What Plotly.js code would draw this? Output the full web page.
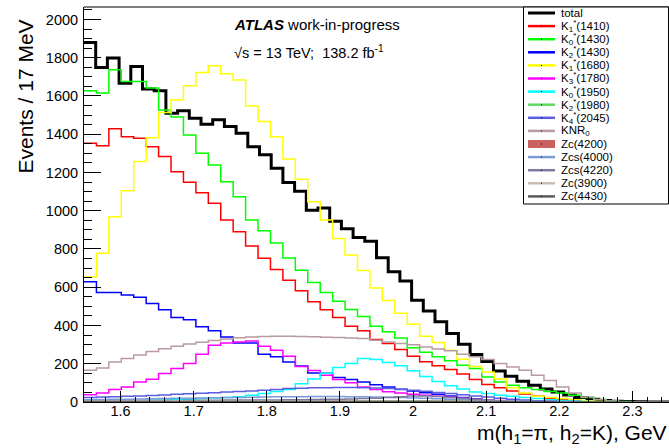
<!DOCTYPE html>
<html><head><meta charset="utf-8">
<script src="https://cdn.plot.ly/plotly-3.0.1.min.js"></script>
<style>html,body{margin:0;padding:0;background:#fff}#chart{width:669px;height:448px}</style>
</head><body><div id="chart"></div>
<script>
// ---- binning (total 16 MeV-wide bins, components 17 MeV bins, both starting at 1.55 GeV)
const totalLo = 1.55, totalBw = 0.016;
const compLo = 1.55, compBw = 0.017;

// ---- data (events per bin)
const total = [1880,1749,1798,1667,1754,1636,1627,1510,1522,1484,1452,1475,1440,1405,1335,1292,1222,1147,1102,1003,
  1014,945,906,860,840,754,681,632,532,476,419,358,302,248,212,162,135,108,87,68,52,37,24,14,8,4,2,1,0,0];
const K1_1410 = [1353,1340,1428,1387,1379,1335,1283,1204,1149,1094,1039,951,890,815,751,693,637,581,524,482,
  442,396,372,327,306,274,239,211,190,170,146,117,91,75,58,42,30,20,12,6,3,1,0,0,0,0,0,0];
const K0_1430 = [1627,1615,1737,1675,1675,1641,1527,1490,1396,1300,1239,1152,1073,951,895,831,753,689,625,573,
  527,484,447,396,367,335,284,260,237,215,192,175,131,105,87,75,65,55,47,35,23,13,5,2,0,0,0,0];
const K2_1430 = [628,573,573,559,547,515,482,442,430,393,372,340,309,309,250,236,209,188,152,150,
  128,118,104,90,78,67,57,48,40,32,24,17,11,7,4,2,1,0,0,0,0,0,0,0,0,0,0,0];
const K1_1680 = [654,777,969,1105,1257,1381,1513,1580,1653,1723,1758,1716,1684,1548,1466,1387,1271,1165,1047,951,
  855,768,688,596,531,464,407,344,311,271,224,185,157,120,75,47,30,23,18,12,6,2,0,0,0,0,0,0];
const K3_1780 = [38,47,65,79,105,119,149,175,201,250,297,309,314,319,292,271,239,185,165,140,
  118,100,79,66,54,47,40,35,30,25,20,15,11,8,5,3,2,1,0,0,0,0,0,0,0,0,0,0];
const K0_1950 = [3,4,5,6,7,9,11,13,15,18,21,24,28,35,44,55,65,96,120,150,
  181,201,227,222,207,190,164,133,107,85,68,52,44,35,30,23,18,12,8,5,3,1,0,0,0,0,0,0];
const K2_1980 = [1,1,1,1,1,1,1,2,2,2,2,2,2,3,3,3,3,3,4,4,4,4,5,5,5,5,5,5,4,4,4,3,3,3,2,2,2,1,1,1,1,0,0,0,0,0,0,0];
const K4_2045 = [24,26,28,30,32,34,37,40,43,46,49,52,55,58,62,66,70,72,74,75,
  76,76,75,73,70,66,62,56,50,44,38,32,26,20,15,10,7,5,3,2,1,0,0,0,0,0,0,0];
const KNR0 = [166,178,209,228,246,264,278,292,303,312,322,330,336,340,343,344,344,343,341,339,
  337,335,332,323,314,306,299,287,277,268,250,236,222,201,183,166,140,113,79,47,26,13,5,0,0,0,0,0];
const Zc4200 = [2,2,2,2,2,2,3,3,3,3,3,3,3,3,3,3,3,3,3,3,3,3,3,3,3,3,3,3,3,3,2,2,2,2,2,1,1,1,1,0,0,0,0,0,0,0,0,0];
const Zcs4000 = [12,13,14,15,16,17,18,19,20,21,22,23,24,25,26,27,28,28,29,29,
  29,28,27,26,25,23,21,19,17,15,13,11,9,7,5,4,3,2,1,1,0,0,0,0,0,0,0,0];
const Zcs4220 = [7,7,7,7,8,8,8,8,9,9,9,10,10,10,11,11,12,12,13,14,15,16,18,20,23,27,31,32,29,24,19,14,10,6,3,2,1,0,0,0,0,0,0,0,0,0,0,0];
const Zc3900 = [4,4,4,4,4,4,4,5,5,5,5,5,5,5,5,5,5,5,5,5,5,5,5,5,5,4,4,4,4,3,3,3,2,2,2,1,1,1,0,0,0,0,0,0,0,0,0,0];
const Zc4430 = [1,1,1,1,1,1,1,1,2,2,2,2,2,2,2,2,2,2,2,2,2,2,2,2,2,2,2,2,2,2,2,2,1,1,1,1,1,1,0,0,0,0,0,0,0,0,0,0];

const legendNames = ['total','K<sub>1</sub><sup>*</sup>(1410)','K<sub>0</sub><sup>*</sup>(1430)','K<sub>2</sub><sup>*</sup>(1430)',
  'K<sub>1</sub><sup>*</sup>(1680)','K<sub>3</sub><sup>*</sup>(1780)','K<sub>0</sub><sup>*</sup>(1950)','K<sub>2</sub><sup>*</sup>(1980)',
  'K<sub>4</sub><sup>*</sup>(2045)','KNR<sub>0</sub>','Zc(4200)','Zcs(4000)','Zcs(4220)','Zc(3900)','Zc(4430)'];

// ---- styles
const styles = [
  {c:'#000000', w:3},
  {c:'#ff0000', w:1.5},
  {c:'#00ff00', w:1.5},
  {c:'#0000ff', w:1.5},
  {c:'#ffff00', w:1.5},
  {c:'#ff00ff', w:1.5},
  {c:'#00ffff', w:1.5},
  {c:'#5fd85f', w:1.5},
  {c:'#5c5ce0', w:1.5},
  {c:'#b89a9f', w:1.5},
  {c:'#cc5f5f', w:1.5, fill:true},
  {c:'#7b9bd8', w:1.5},
  {c:'#7a7a9c', w:1.5},
  {c:'#c8bdb2', w:1.5},
  {c:'#5a5a5a', w:1.5}
];
const series = [total,K1_1410,K0_1430,K2_1430,K1_1680,K3_1780,K0_1950,K2_1980,K4_2045,KNR0,Zc4200,Zcs4000,Zcs4220,Zc3900,Zc4430];

function histTrace(vals, lo, bw, st) {
  const x = [], y = [];
  for (let i = 0; i < vals.length; i++) { x.push(lo + i * bw); y.push(vals[i]); }
  x.push(lo + vals.length * bw); y.push(vals[vals.length - 1]);
  const t = {type:'scatter', mode:'lines', x:x, y:y, line:{shape:'hv', color:st.c, width:st.w},
    showlegend:false, hoverinfo:'skip'};
  if (st.fill) { t.fill = 'tozeroy'; t.fillcolor = st.c; }
  return t;
}

const traces = [];
traces.push(histTrace(total, totalLo, totalBw, styles[0]));
for (let k = 1; k < series.length; k++) traces.push(histTrace(series[k], compLo, compBw, styles[k]));

// ---- geometry helpers (pixels -> paper)
const W = 669, H = 448, mL = 84, mR = 0, mT = 7, mB = 46;
const pw = W - mL - mR, ph = H - mT - mB;
const px = v => (v - mL) / pw;
const py = v => (H - mB - v) / ph;

const font = 'Liberation Sans, Arial, Helvetica, sans-serif';
const shapes = [
  {type:'line', xref:'paper', yref:'paper', x0:0, x1:1, y0:1, y1:1, line:{color:'#000', width:1}},
  {type:'rect', xref:'paper', yref:'paper', x0:px(523.5), x1:px(668.5), y0:py(204), y1:1, line:{color:'#000', width:1}, fillcolor:'rgba(255,255,255,1)', layer:'above'}
];
const annotations = [
  {xref:'paper', yref:'paper', x:px(231.5), y:py(24), xanchor:'left', yanchor:'middle', showarrow:false,
   text:'<b><i>ATLAS</i></b> work-in-progress', font:{family:font, size:15, color:'#000'}},
  {xref:'paper', yref:'paper', x:px(231.5), y:py(51.5), xanchor:'left', yanchor:'middle', showarrow:false,
   text:'√s = 13 TeV;  138.2 fb<sup>-1</sup>', font:{family:font, size:14.5, color:'#000'}},
  {xref:'paper', yref:'paper', x:px(25), y:py(96.5), xanchor:'center', yanchor:'middle', showarrow:false, textangle:-90,
   text:'Events / 17 MeV', font:{family:font, size:21, color:'#000'}},
  {xref:'paper', yref:'paper', x:px(669), y:py(434), xanchor:'right', yanchor:'middle', showarrow:false,
   text:'m(h<sub>1</sub>=π, h<sub>2</sub>=K), GeV', font:{family:font, size:21, color:'#000'}}
];
// custom legend entries
const rowY0 = 13, rowDy = 13.1;
for (let k = 0; k < legendNames.length; k++) {
  const yy = rowY0 + k * rowDy;
  const st = styles[k];
  if (st.fill) {
    shapes.push({type:'rect', xref:'paper', yref:'paper', x0:px(528), x1:px(555), y0:py(yy+4), y1:py(yy-4),
      line:{width:0}, fillcolor:st.c, layer:'above'});
  } else {
    shapes.push({type:'line', xref:'paper', yref:'paper', x0:px(528), x1:px(555), y0:py(yy), y1:py(yy),
      line:{color:st.c, width:st.w === 3 ? 3 : 2.5}, layer:'above'});
  }
  if (k > 0) {
    shapes.push({type:'rect', xref:'paper', yref:'paper', x0:px(541), x1:px(542), y0:py(yy+0.5), y1:py(yy-0.5),
      line:{width:0}, fillcolor:'#000', layer:'above'});
  }
  annotations.push({xref:'paper', yref:'paper', x:px(559), y:py(yy), xanchor:'left', yanchor:'middle', showarrow:false,
    text:legendNames[k], font:{family:font, size:11.5, color:'#000'}});
}

const layout = {
  width:W, height:H, margin:{l:mL, r:mR, t:mT, b:mB},
  paper_bgcolor:'#fff', plot_bgcolor:'#fff', showlegend:false,
  font:{family:font, color:'#000'},
  xaxis:{range:[1.55, 2.35], showgrid:false, zeroline:false, showline:true, linecolor:'#000', linewidth:1,
    ticks:'inside', ticklen:11, tickwidth:1, tickcolor:'#000', dtick:0.1, tick0:1.6,
    tickfont:{family:font, size:14.5, color:'#000'}, ticklabelstandoff:-4,
    minor:{ticks:'inside', ticklen:5.5, dtick:0.02, tick0:1.6, tickcolor:'#000', tickwidth:1}},
  yaxis:{range:[0, 2065], showgrid:false, zeroline:false, showline:true, linecolor:'#000', linewidth:1,
    ticks:'inside', ticklen:17, tickwidth:1, tickcolor:'#000', dtick:200, tick0:0,
    tickfont:{family:font, size:14.5, color:'#000'}, ticklabelstandoff:2,
    minor:{ticks:'inside', ticklen:8, dtick:50, tick0:0, tickcolor:'#000', tickwidth:1}},
  shapes:shapes, annotations:annotations
};
Plotly.newPlot('chart', traces, layout, {displayModeBar:false, staticPlot:true});
</script></body></html>
